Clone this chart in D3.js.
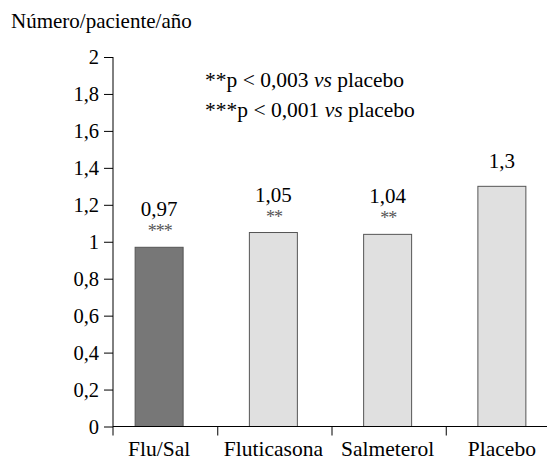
<!DOCTYPE html>
<html>
<head>
<meta charset="utf-8">
<script src="https://cdn.jsdelivr.net/npm/d3@7"></script>
<style>
  html, body { margin: 0; padding: 0; background: #fff; }
  svg text { font-family: "Liberation Serif", "DejaVu Serif", serif; }
</style>
</head>
<body>
<svg id="chart" width="547" height="460"></svg>
<script>
// Exacerbaciones por paciente y año según tratamiento
const categories = ["Flu/Sal", "Fluticasona", "Salmeterol", "Placebo"];
const values = [0.97, 1.05, 1.04, 1.3];
const valueLabels = ["0,97", "1,05", "1,04", "1,3"];
const significance = ["***", "**", "**", ""];
const barFills = ["#777777", "#e0e0e0", "#e0e0e0", "#e0e0e0"];
const yTicks = [0, 0.2, 0.4, 0.6, 0.8, 1, 1.2, 1.4, 1.6, 1.8, 2];
const yTitle = "Número/paciente/año";
const notes = [
  { stars: "**", text: "p < 0,003 ", em: "vs", tail: " placebo" },
  { stars: "***", text: "p < 0,001 ", em: "vs", tail: " placebo" }
];

const FONT = "'Liberation Serif', 'DejaVu Serif', serif";
const svg = d3.select("#chart");
const axisX = 113, baseY = 426.5, topY = 57;

const y = d3.scaleLinear().domain([0, 2]).range([baseY, topY]);
const x = d3.scaleBand().domain(categories).range([102, 559]).paddingInner(0.58).paddingOuter(0.29);

const fmt = d => String(d).replace(".", ",");

// Eje Y
const yAxis = svg.append("g")
  .attr("transform", `translate(${axisX},0)`)
  .call(d3.axisLeft(y).tickValues(yTicks).tickFormat(fmt).tickSize(9).tickPadding(5).tickSizeOuter(0));
yAxis.attr("font-family", FONT);
yAxis.select(".domain").remove();
yAxis.selectAll(".tick line").attr("stroke", "#000").attr("stroke-width", 1);
yAxis.selectAll(".tick text")
  .attr("fill", "#000")
  .attr("font-family", FONT)
  .style("font-size", "20.5px");
svg.append("line")
  .attr("x1", axisX).attr("x2", axisX)
  .attr("y1", y(2)).attr("y2", baseY + 9)
  .attr("stroke", "#000").attr("stroke-width", 1);

// Barras
svg.append("g").selectAll("rect")
  .data(categories)
  .join("rect")
  .attr("x", d => x(d))
  .attr("width", x.bandwidth())
  .attr("y", (d, i) => y(values[i]))
  .attr("height", (d, i) => y(0) - y(values[i]))
  .attr("fill", (d, i) => barFills[i])
  .attr("stroke", "#555")
  .attr("stroke-width", 1);

// Eje X
svg.append("line")
  .attr("x1", axisX).attr("x2", 547)
  .attr("y1", baseY).attr("y2", baseY)
  .attr("stroke", "#000").attr("stroke-width", 1);
const step = x.step();
svg.append("g").selectAll("line")
  .data(categories.slice(0, -1))
  .join("line")
  .attr("x1", d => x(d) + x.bandwidth() + step * x.paddingInner() / 2 + 1.5)
  .attr("x2", d => x(d) + x.bandwidth() + step * x.paddingInner() / 2 + 1.5)
  .attr("y1", baseY).attr("y2", baseY + 9)
  .attr("stroke", "#000").attr("stroke-width", 1);

svg.append("g").selectAll("text")
  .data(categories)
  .join("text")
  .attr("x", d => x(d) + x.bandwidth() / 2)
  .attr("y", 456)
  .attr("text-anchor", "middle")
  .attr("font-family", FONT)
  .style("font-size", "21.5px")
  .text(d => d);

// Valores y significación
const labels = svg.append("g");
categories.forEach((c, i) => {
  const cx = x(c) + x.bandwidth() / 2;
  const top = y(values[i]);
  const hasStars = significance[i] !== "";
  labels.append("text")
    .attr("x", cx)
    .attr("y", top - (hasStars ? 31 : 18))
    .attr("text-anchor", "middle")
    .attr("font-family", FONT)
    .style("font-size", "21px")
    .text(valueLabels[i]);
  if (hasStars) {
    labels.append("text")
      .attr("x", cx + 0.5)
      .attr("y", top - 10)
      .attr("text-anchor", "middle")
      .attr("fill", "#555")
      .attr("font-family", FONT)
      .style("font-size", "18px")
      .style("letter-spacing", "-1px")
      .text(significance[i]);
  }
});

// Título del eje Y
svg.append("text")
  .attr("x", 11)
  .attr("y", 28)
  .attr("font-family", FONT)
  .style("font-size", "21px")
  .text(yTitle);

// Notas de significación
const noteG = svg.append("g");
notes.forEach((n, i) => {
  const t = noteG.append("text")
    .attr("x", 205)
    .attr("y", 87 + i * 30)
    .attr("font-family", FONT)
    .style("font-size", "21.5px");
  t.append("tspan").text(n.stars + n.text);
  t.append("tspan").style("font-style", "italic").text(n.em);
  t.append("tspan").text(n.tail);
});
</script>
</body>
</html>
